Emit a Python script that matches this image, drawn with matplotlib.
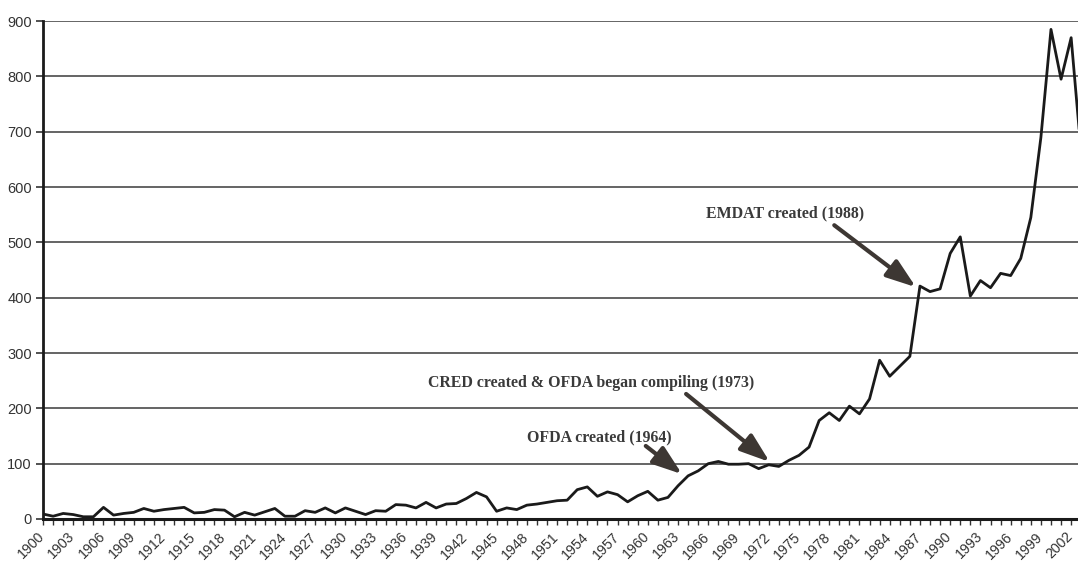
import matplotlib.pyplot as plt
import matplotlib.ticker as mticker
import matplotlib.transforms as mtransforms

# number of reported disasters per year
years = list(range(1900, 2004))
counts = [9, 5, 10, 8, 4, 4, 21, 7, 10, 12,
          19, 14, 17, 19, 21, 11, 12, 17, 16, 4,
          12, 7, 13, 19, 5, 5, 15, 12, 20, 11,
          20, 14, 8, 15, 14, 26, 25, 20, 30, 20,
          27, 28, 37, 48, 40, 14, 20, 17, 25, 27,
          30, 33, 34, 53, 58, 41, 49, 44, 31, 42,
          50, 34, 39, 60, 78, 87, 100, 104, 99, 99,
          100, 91, 98, 95, 106, 115, 130, 178, 192, 178,
          204, 190, 217, 287, 258, 276, 294, 421, 411, 416,
          480, 510, 403, 431, 418, 444, 440, 471, 545, 690,
          885, 795, 870, 660]

tick_years = list(range(1900, 2003, 3))
y_ticks = [0, 100, 200, 300, 400, 500, 600, 700, 800, 900]

# annotations: text, text position, arrow start, arrow tip
notes = [
    ("EMDAT created (1988)", (1965.8, 553), (1978.5, 531), (1986.6, 419)),
    ("CRED created & OFDA began compiling (1973)", (1938.2, 246), (1963.8, 226), (1972.1, 103)),
    ("OFDA created (1964)", (1948.0, 148), (1959.8, 132), (1963.4, 81)),
]

fig = plt.figure(figsize=(10.78, 5.70), dpi=100)
ax = fig.add_axes([0.0399, 0.0895, 0.9601, 0.8735])

ax.plot(years, counts, color="#1a1a1a", lw=2.0, zorder=3)

ax.set_xlim(1900, 2002.68)
ax.set_ylim(0, 900)

ax.set_yticks(y_ticks)
ax.yaxis.grid(True, color="#4a4a4a", lw=1.2)
ax.set_axisbelow(True)

ax.xaxis.set_major_locator(mticker.FixedLocator(tick_years))
ax.xaxis.set_minor_locator(mticker.MultipleLocator(1))
ax.set_xticklabels([])

# slanted year labels, drawn by hand so they can sit a bit left of the ticks
lab_tr = ax.get_xaxis_transform() + mtransforms.ScaledTranslation(
    -4 / 72, -7.5 / 72, fig.dpi_scale_trans)
for yr in tick_years:
    ax.text(yr, 0, str(yr), transform=lab_tr, rotation=45, ha="right", va="top",
            rotation_mode="anchor", fontsize=10.2, color="#333333",
            family="Liberation Sans", clip_on=False)

for lab in ax.get_yticklabels():
    lab.set_family("Liberation Sans")
ax.tick_params(axis="y", labelsize=10.5, colors="#333333", length=5, width=1.2, pad=3)
ax.tick_params(axis="x", which="both", length=4, width=1, colors="#333333")

for s in ["top", "right"]:
    ax.spines[s].set_visible(False)
ax.spines["left"].set_linewidth(2)
ax.spines["bottom"].set_linewidth(2.2)
ax.spines["left"].set_color("#1a1a1a")
ax.spines["bottom"].set_color("#1a1a1a")

for text, tpos, start, tip in notes:
    ax.text(tpos[0], tpos[1], text, fontsize=11.4, fontweight="bold",
            family="Liberation Serif", color="#3a3a3a", va="center", ha="left")
    ax.annotate("", xy=tip, xytext=start,
                arrowprops=dict(arrowstyle="-|>,head_width=0.35,head_length=1.0",
                                color="#3d3733", lw=3.0, mutation_scale=18,
                                shrinkA=0, shrinkB=0))

plt.savefig("out.png", dpi=100)
